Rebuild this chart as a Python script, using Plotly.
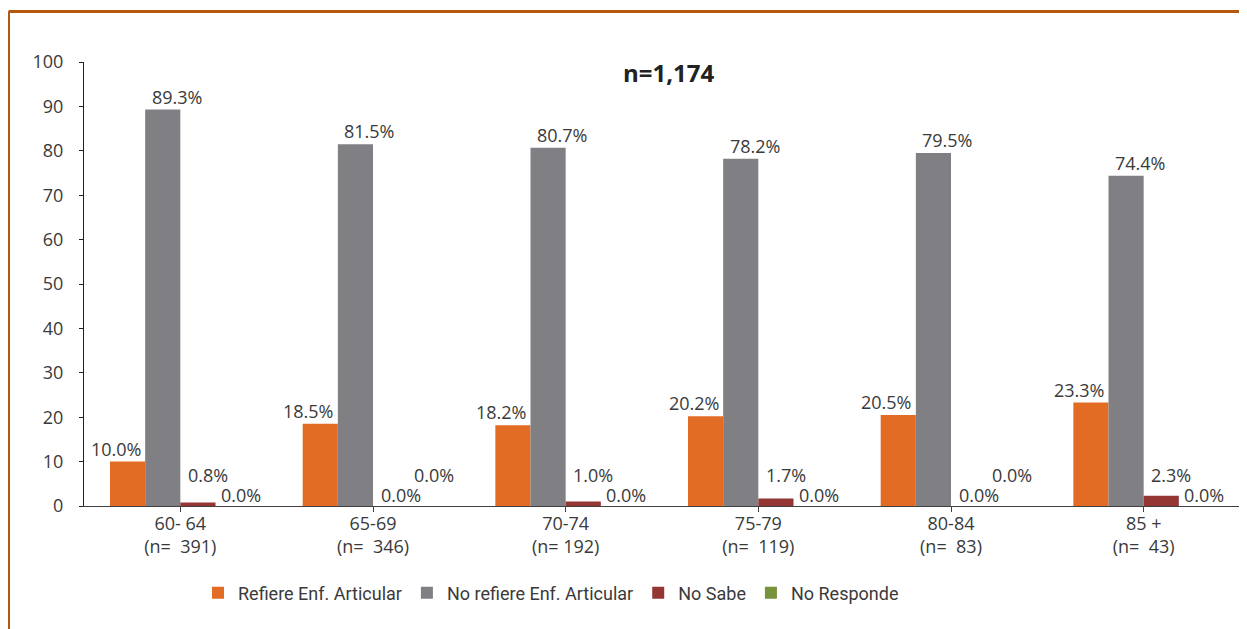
import plotly.graph_objects as go

categories = ["60- 64<br>(n=  391)", "65-69<br>(n=  346)", "70-74<br>(n= 192)",
              "75-79<br>(n=  119)", "80-84<br>(n=  83)", "85 +<br>(n=  43)"]
refiere = [10.0, 18.5, 18.2, 20.2, 20.5, 23.3]
no_refiere = [89.3, 81.5, 80.7, 78.2, 79.5, 74.4]
no_sabe = [0.8, 0.0, 1.0, 1.7, 0.0, 2.3]
no_responde = [0.0, 0.0, 0.0, 0.0, 0.0, 0.0]

series_names = ["Refiere Enf. Articular", "No refiere Enf. Articular", "No Sabe", "No Responde"]
series_values = [refiere, no_refiere, no_sabe, no_responde]
colors = ["#E36C25", "#808084", "#943634", "#77933C"]

FONT = "Open Sans, DejaVu Sans, sans-serif"
TXT = "#3a3a3a"

# page has an 8px body margin; figure is sized so that page coordinates match
OFF = 8
W, H = 1247 - OFF, 629 - OFF

fig = go.Figure()
for name, vals, col in zip(series_names, series_values, colors):
    fig.add_trace(go.Bar(name=name, x=list(range(len(categories))), y=vals,
                         marker=dict(color=col, line=dict(width=0))))

bargap = 0.27
n_series = len(series_values)
bw = (1 - bargap) / n_series
label_dx = [-12, 14, 10, 8]
annotations = []
for s, vals in enumerate(series_values):
    for i, v in enumerate(vals):
        xc = i + (s - (n_series - 1) / 2) * bw
        if s < 2:
            y, ysh = v, 13
        elif s == 2:
            y, ysh = 0, (31 if v > 0 else 11)
        else:
            y, ysh = 0, (31 if no_sabe[i] == 0 else 11)
        annotations.append(dict(x=xc, y=y, xref="x", yref="y", text=f"{v:.1f}%",
                                showarrow=False, xshift=label_dx[s], yshift=ysh,
                                yanchor="middle", xanchor="center",
                                font=dict(family=FONT, size=18, color=TXT)))

L, T = 84 - OFF, 62 - OFF
R = W - (1240 - OFF)
B = H - (506 - OFF)
pw, ph = W - L - R, H - T - B

def px_x(page_x):
    return (page_x - OFF - L) / pw

def px_y(page_y):
    return (H - B - (page_y - OFF)) / ph

annotations.append(dict(x=px_x(669), y=px_y(73), xref="paper", yref="paper",
                        text="<b>n=1,174</b>", showarrow=False, xanchor="center",
                        yanchor="middle", font=dict(family=FONT, size=24, color="#222222")))

border = "#B5580F"
shapes = [
    dict(type="line", xref="paper", yref="paper", x0=px_x(8.5), x1=px_x(1260),
         y0=px_y(11.5), y1=px_y(11.5), line=dict(color=border, width=3)),
    dict(type="line", xref="paper", yref="paper", x0=px_x(8.5), x1=px_x(8.5),
         y0=px_y(11.5), y1=px_y(640), line=dict(color=border, width=3)),
]

fig.update_layout(
    width=W, height=H,
    margin=dict(l=L, r=R, t=T, b=B),
    paper_bgcolor="white", plot_bgcolor="white",
    barmode="group", bargap=bargap, bargroupgap=0,
    showlegend=True,
    legend=dict(orientation="h", x=px_x(198), xanchor="left",
                y=px_y(593), yanchor="middle",
                font=dict(family="Roboto, sans-serif", size=18, color=TXT),
                itemwidth=30, tracegroupgap=0),
    annotations=annotations,
    shapes=shapes,
    xaxis=dict(tickmode="array", tickvals=list(range(len(categories))), ticktext=categories,
               range=[-0.5, len(categories) - 0.5],
               showline=True, linecolor="#404040", linewidth=1,
               ticks="outside", ticklen=5, tickcolor="#404040",
               showgrid=False, zeroline=False, ticklabelstandoff=-4,
               tickfont=dict(family=FONT, size=18, color=TXT)),
    yaxis=dict(range=[0, 100], dtick=10, showline=True, linecolor="#202020", linewidth=1,
               ticks="outside", ticklen=4, tickcolor="#202020", showgrid=False,
               zeroline=False, ticklabelstandoff=12,
               tickfont=dict(family=FONT, size=18, color=TXT)),
)

fig.write_html("out.html")
